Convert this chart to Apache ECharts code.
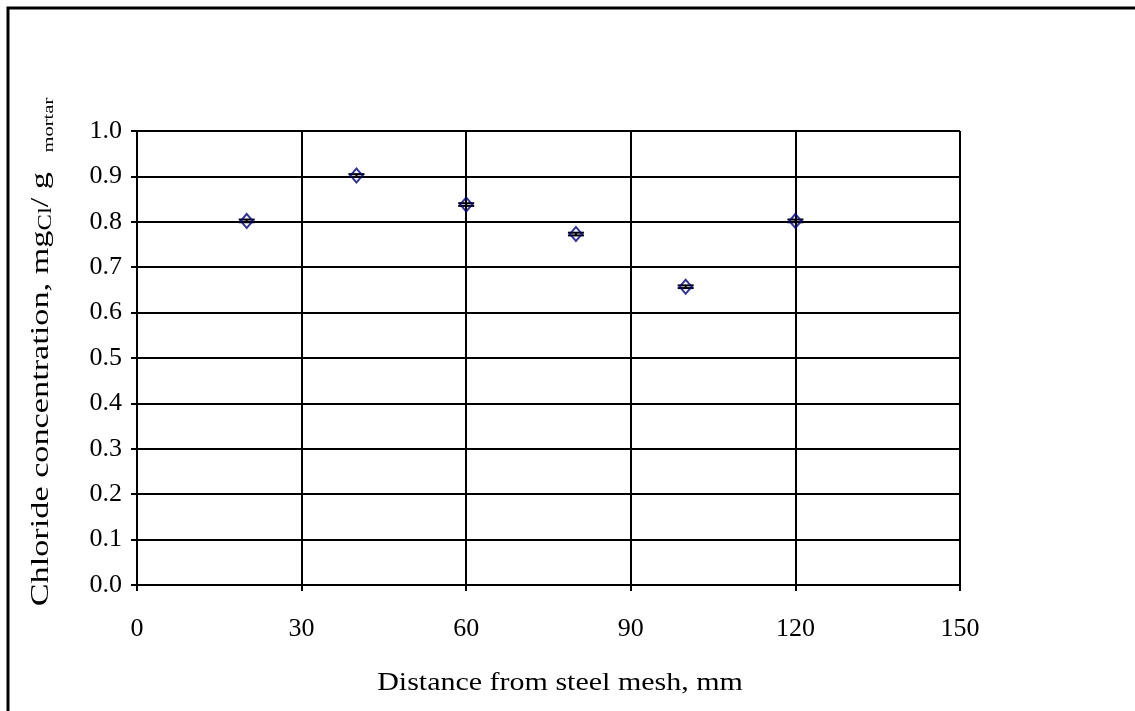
<!DOCTYPE html>
<html>
<head>
<meta charset="utf-8">
<script src="https://cdn.jsdelivr.net/npm/echarts@6/dist/echarts.min.js"></script>
<style>
	html,body{margin:0;padding:0;background:#fff;}
	#chart{width:1135px;height:711px;}
</style>
</head>
<body>
<div id="chart"></div>
<script>
// distance from steel mesh (mm) and chloride content
var distance = [20, 40, 60, 80, 100, 120];
var chloride = [0.802, 0.902, 0.838, 0.773, 0.657, 0.802];
var errAmount = [0.003, 0.003, 0.003, 0.003, 0.003, 0.003];
var xTicks = [0, 30, 60, 90, 120, 150];
var yTicks = [0, 0.1, 0.2, 0.3, 0.4, 0.5, 0.6, 0.7, 0.8, 0.9, 1.0];
var xTitle = "Distance from steel mesh, mm";

var FONT = "Liberation Serif";

var points = distance.map(function(d, i){ return [d, chloride[i]]; });
var bars = distance.map(function(d, i){
	return [d, chloride[i] - errAmount[i], chloride[i] + errAmount[i]];
});

var chart = echarts.init(document.getElementById("chart"));
chart.setOption({
	animation:false,
	backgroundColor:"#fff",
	graphic:[{
		type:"rect",
		shape:{x:8, y:8, width:1140, height:720},
		style:{fill:"none", stroke:"#000", lineWidth:3},
		silent:true
	},{
		// x title, stretched a bit like the original
		type:"text",
		x:560, y:683,
		scaleX:1.2,
		style:{text:xTitle, font:"25px " + FONT, fill:"#000", align:"center", verticalAlign:"middle"},
		silent:true
	},{
		// y title with subscripts
		type:"text",
		x:41, y:352,
		rotation:Math.PI/2,
		scaleX:1.37,
		style:{
			text:"{a|Chloride concentration, mg}{s|Cl}{a|/ g }{s2|mortar}",
			align:"center", verticalAlign:"middle",
			rich:{
				a:{fontFamily:FONT, fontSize:25, fill:"#000"},
				s:{fontFamily:FONT, fontSize:18, fill:"#000", padding:[10,0,0,0]},
				s2:{fontFamily:FONT, fontSize:15, fill:"#000", padding:[16,0,0,8]}
			}
		},
		silent:true
	}],
	grid:{left:137, top:131, right:175, bottom:126},
	xAxis:{
		type:"value",
		min:xTicks[0], max:xTicks[xTicks.length-1], interval:30,
		axisLine:{lineStyle:{color:"#000", width:2}},
		axisTick:{show:true, length:6, lineStyle:{color:"#000", width:2}},
		axisLabel:{fontFamily:FONT, fontSize:26, color:"#000", margin:31},
		splitLine:{show:true, lineStyle:{color:"#000", width:2}}
	},
	yAxis:{
		type:"value",
		min:yTicks[0], max:yTicks[yTicks.length-1], interval:0.1,
		axisLine:{show:true, lineStyle:{color:"#000", width:2}},
		axisTick:{show:true, length:6, lineStyle:{color:"#000", width:2}},
		axisLabel:{fontFamily:FONT, fontSize:26, color:"#000", margin:15,
			formatter:function(v){ return v.toFixed(1); }},
		splitLine:{show:true, lineStyle:{color:"#000", width:2}}
	},
	series:[{
		type:"custom",
		data:bars,
		z:3,
		renderItem:function(params, api){
			var x = api.value(0);
			var lo = api.coord([x, api.value(1)]);
			var hi = api.coord([x, api.value(2)]);
			var w = 8;
			var st = {stroke:"#000", lineWidth:2};
			return {type:"group", children:[
				{type:"line", shape:{x1:lo[0], y1:lo[1], x2:hi[0], y2:hi[1]}, style:st},
				{type:"line", shape:{x1:lo[0]-w, y1:lo[1], x2:lo[0]+w, y2:lo[1]}, style:st},
				{type:"line", shape:{x1:hi[0]-w, y1:hi[1], x2:hi[0]+w, y2:hi[1]}, style:st}
			]};
		}
	},{
		type:"scatter",
		data:points,
		z:4,
		symbol:"diamond",
		symbolSize:[12,14],
		itemStyle:{color:"rgba(255,255,255,0)", borderColor:"#000080", borderWidth:2}
	}]
});
</script>
</body>
</html>
